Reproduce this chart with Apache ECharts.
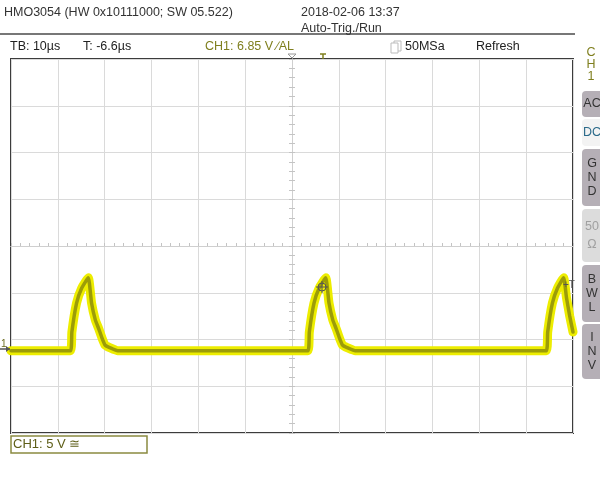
<!DOCTYPE html>
<html>
<head>
<meta charset="utf-8">
<script src="https://cdn.jsdelivr.net/npm/echarts@6/dist/echarts.min.js"></script>
<style>
  html, body { margin: 0; padding: 0; background: #fff; }
  #chart { width: 600px; height: 487px; }
</style>
</head>
<body>
<div id="chart"></div>
<script>
// time axis in µs (10 µs/div, 12 div), screen volts (5 V/div, 8 div)
var timeTicks = [-60, 60, 10];
var voltTicks = [-20, 20, 5];

// CH1 trace
var traceTime = [-60, -47.3, -47.0, -46.0, -44.9, -43.5, -42.8, -42.0, -41.3, -40.6, -39.9, -38.8, -37.2,
                 3.4, 3.7, 4.7, 5.8, 7.2, 7.9, 8.7, 9.4, 10.1, 10.8, 11.9, 13.5,
                 54.3, 54.6, 55.6, 56.7, 58.0, 58.6, 59.3, 60];
var traceVolt = [-11.2, -11.2, -9.2, -6.1, -4.5, -3.4, -6.1, -7.9, -8.8, -9.8, -10.6, -10.9, -11.2,
                 -11.2, -9.2, -6.1, -4.5, -3.4, -6.1, -7.9, -8.8, -9.8, -10.6, -10.9, -11.2,
                 -11.2, -9.2, -6.1, -4.5, -3.4, -5.5, -7.5, -9.2];

var trace = traceTime.map(function (t, i) { return [t, traceVolt[i]]; });

var olive = '#7f7f1e';
var font = 'Liberation Sans';

var myChart = echarts.init(document.getElementById('chart'));

function txt(x, y, s, color, size) {
    return {
        type: 'text', left: x, top: y, z: 100,
        style: { text: s, fill: color || '#2a2a2a', font: (size || 12.5) + 'px "' + font + '"' }
    };
}

function ctxt(x, y, s, color, size) {
    return {
        type: 'text', x: x, y: y, z: 100,
        style: { text: s, fill: color, font: (size || 12.5) + 'px "' + font + '"', align: 'center', verticalAlign: 'middle' }
    };
}

function button(y, h, letters, fill, color) {
    var els = [{
        type: 'rect', z: 90,
        shape: { x: 582, y: y, width: 22, height: h, r: 4 },
        style: { fill: fill, stroke: 'none' }
    }];
    var step = h / (letters.length + 1);
    letters.forEach(function (l, i) {
        els.push(ctxt(592, y + step * (i + 1), l, color));
    });
    return els;
}

var graphics = [
    txt(4, 6, 'HMO3054 (HW 0x10111000; SW 05.522)', '#333'),
    txt(301, 6, '2018-02-06 13:37', '#333'),
    txt(301, 22, 'Auto-Trig./Run', '#333'),
    { type: 'rect', z: 90, shape: { x: 0, y: 33, width: 575, height: 2 }, style: { fill: '#777' } },
    txt(10, 40, 'TB: 10µs', '#222'),
    txt(83, 40, 'T: -6.6µs', '#222'),
    txt(205, 40, 'CH1: 6.85 V ∕AL', olive),
    { type: 'rect', z: 90, shape: { x: 394, y: 41, width: 7, height: 10 }, style: { fill: '#fff', stroke: '#bbb' } },
    { type: 'rect', z: 91, shape: { x: 391, y: 43, width: 7, height: 10 }, style: { fill: '#fff', stroke: '#bbb' } },
    txt(405, 40, '50MSa', '#222'),
    txt(476, 40, 'Refresh', '#222'),
    // trigger position / top marker
    { type: 'polygon', z: 100, shape: { points: [[288, 54], [296, 54], [292, 58]] }, style: { fill: '#fff', stroke: '#999' } },
    { type: 'polyline', z: 100, shape: { points: [[320, 54], [326, 54]] }, style: { stroke: olive, lineWidth: 1.5 } },
    { type: 'polyline', z: 100, shape: { points: [[323, 54], [323, 59]] }, style: { stroke: olive, lineWidth: 1.5 } },
    // channel column
    ctxt(591, 53, 'C', olive),
    ctxt(591, 65, 'H', olive),
    ctxt(591, 77, '1', olive),
    // ground marker
    txt(1, 339, '1', '#6d6d20', 10),
    { type: 'polyline', z: 100, shape: { points: [[0, 349], [10, 349]] }, style: { stroke: '#555', lineWidth: 1.5 } },
    { type: 'polygon', z: 100, shape: { points: [[6, 346], [10, 349], [6, 352]] }, style: { fill: '#555' } },
    // trigger level crosshair
    { type: 'circle', z: 100, shape: { cx: 322, cy: 287, r: 4 }, style: { fill: 'none', stroke: '#555', lineWidth: 1 } },
    { type: 'polyline', z: 100, shape: { points: [[316, 287], [328, 287]] }, style: { stroke: '#555', lineWidth: 1 } },
    { type: 'polyline', z: 100, shape: { points: [[322, 281], [322, 293]] }, style: { stroke: '#555', lineWidth: 1 } },
    txt(563, 280, '+T', '#555', 10),
    // bottom channel box
    { type: 'rect', z: 90, shape: { x: 11, y: 436, width: 136, height: 17 }, style: { fill: '#fff', stroke: '#8a8a40', lineWidth: 1.5 } },
    txt(13, 438, 'CH1: 5 V ≅', '#5e5e18', 13)
];
graphics = graphics
    .concat(button(91, 26, ['AC'], '#b5afb6', '#333'))
    .concat(button(119, 27, ['DC'], '#f3f3f3', '#2b6a8a'))
    .concat(button(149, 57, ['G', 'N', 'D'], '#b5afb6', '#333'))
    .concat(button(209, 53, ['50', 'Ω'], '#dcdcdc', '#a0a0a0'))
    .concat(button(265, 57, ['B', 'W', 'L'], '#b5afb6', '#333'))
    .concat(button(324, 55, ['I', 'N', 'V'], '#b5afb6', '#333'));

var gridColor = '#dadada';
var centerAxis = {
    axisLine: { show: true, onZero: true, lineStyle: { color: '#cfcfcf', width: 1 } },
    axisLabel: { show: false },
    splitLine: { show: false }
};

var option = {
    backgroundColor: '#fff',
    animation: false,
    grid: { left: 11, top: 59, width: 562, height: 374, show: true, borderColor: '#3c3c3c', borderWidth: 2, backgroundColor: 'transparent' },
    xAxis: [
        Object.assign({}, centerAxis, {
            type: 'value', min: timeTicks[0], max: timeTicks[1], interval: timeTicks[2],
            axisTick: { show: true, inside: true, length: 3, lineStyle: { color: '#c4c4c4' } },
            minorTick: { show: true, splitNumber: 5, length: 3, lineStyle: { color: '#c4c4c4' } },
            splitLine: { show: true, lineStyle: { color: gridColor, width: 1 } }
        }),
        Object.assign({}, centerAxis, {
            type: 'value', min: timeTicks[0], max: timeTicks[1], interval: timeTicks[2],
            axisTick: { show: true, inside: false, length: 3, lineStyle: { color: '#c4c4c4' } },
            minorTick: { show: true, splitNumber: 5, length: 3, lineStyle: { color: '#c4c4c4' } }
        })
    ],
    yAxis: [
        Object.assign({}, centerAxis, {
            type: 'value', min: voltTicks[0], max: voltTicks[1], interval: voltTicks[2],
            axisTick: { show: true, inside: true, length: 3, lineStyle: { color: '#c4c4c4' } },
            minorTick: { show: true, splitNumber: 5, length: 3, lineStyle: { color: '#c4c4c4' } },
            splitLine: { show: true, lineStyle: { color: gridColor, width: 1 } }
        }),
        Object.assign({}, centerAxis, {
            type: 'value', min: voltTicks[0], max: voltTicks[1], interval: voltTicks[2],
            position: 'left',
            axisTick: { show: true, inside: false, length: 3, lineStyle: { color: '#c4c4c4' } },
            minorTick: { show: true, splitNumber: 5, length: 3, lineStyle: { color: '#c4c4c4' } }
        })
    ],
    series: [
        {
            type: 'line', data: trace, xAxisIndex: 0, yAxisIndex: 0,
            symbol: 'none', smooth: 0.15, silent: true,
            lineStyle: { color: '#eded00', width: 9, cap: 'round', join: 'round' }
        },
        {
            type: 'line', data: trace, xAxisIndex: 0, yAxisIndex: 0,
            symbol: 'none', smooth: 0.15, silent: true,
            lineStyle: { color: '#9c9c08', width: 3.5, cap: 'round', join: 'round' }
        }
    ],
    graphic: graphics
};

myChart.setOption(option);
</script>
</body>
</html>
